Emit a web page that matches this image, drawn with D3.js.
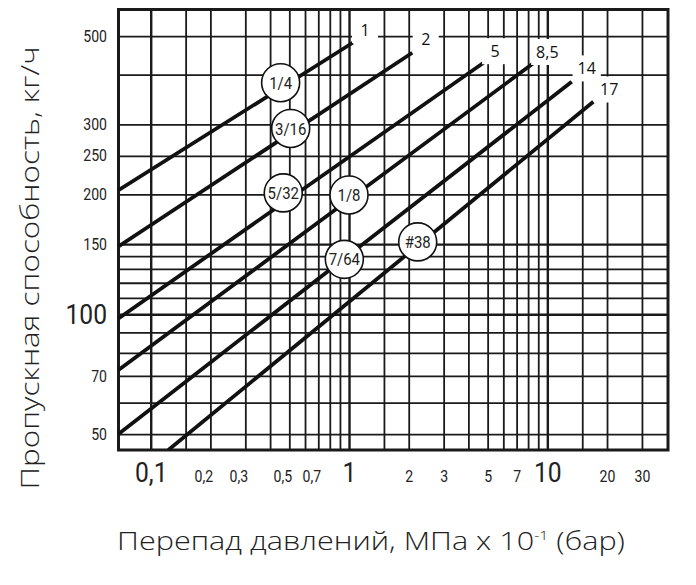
<!DOCTYPE html>
<html lang="ru">
<head>
<meta charset="UTF-8">
<title>Пропускная способность</title>
<script src="https://d3js.org/d3.v7.min.js"></script>
<style>
    body{ margin:0; background:#fff; }
    svg{ display:block; }
    .narrow{ font-family:Roboto, "Liberation Sans", Arial, sans-serif; font-weight:normal; }
    .grid line{ stroke:#1a1a1a; stroke-width:1.8; }
    .grid path{ display:none; }
</style>
</head>
<body>
<svg id="chart"></svg>
<script>
// orifice lines: start point, end point (data units)
const seriesNames = ["1/4", "3/16", "5/32", "1/8", "7/64", "#38"];
const endLabels   = ["1", "2", "5", "8,5", "14", "17"];
const startX = [0.0688, 0.0688, 0.0688, 0.0688, 0.0688, 0.1227];
const startY = [205, 148, 97.6, 72.4, 50, 45.6];
const endX   = [1.044, 2.085, 4.85, 8.57, 13.27, 17.06];
const endY   = [481, 454, 431, 428.5, 383.7, 342];
// circle badges
const badgeX = [0.452, 0.508, 0.466, 1.0, 0.947, 2.22];
const badgeY = [381.7, 293, 201.8, 199.4, 137.4, 152];
// number labels at line ends
const endLabelX = [1.204, 2.437, 5.45, 10.0, 15.8, 20.5];
const endLabelY = [517.6, 491.4, 458, 456, 414.6, 367];

const xGrid = [0.1, 0.15, 0.2, 0.3, 0.4, 0.5, 0.6, 0.7, 0.8, 0.9, 1, 1.5, 2, 3, 4, 5, 6, 7, 8, 9, 10, 15, 20, 30];
const yGrid = [50, 60, 70, 80, 90, 100, 110, 120, 130, 140, 150, 200, 250, 300, 400, 500];
const xTickValues = [0.1, 0.2, 0.3, 0.5, 0.7, 1, 2, 3, 5, 7, 10, 20, 30];
const xTickText   = ["0,1", "0,2", "0,3", "0,5", "0,7", "1", "2", "3", "5", "7", "10", "20", "30"];
const xMajor = [0.1, 1, 10];
const yTickValues = [500, 300, 250, 200, 150, 100, 70, 50];
const yMajor = [100];
const xDomain = [0.0688, 40.6];
const yDomain = [45.6, 583];

const W = 696, H = 585;
const m = {left: 118.5, right: 668, top: 9.5, bottom: 450};
const squeeze = 0.88;   // condensed look for tick and badge text

const svg = d3.select("#chart").attr("width", W).attr("height", H);

const x = d3.scaleLog().domain(xDomain).range([m.left, m.right]);
const y = d3.scaleLog().domain(yDomain).range([m.bottom, m.top]);

svg.append("defs").append("clipPath").attr("id", "plot")
   .append("rect").attr("x", m.left).attr("y", m.top)
   .attr("width", m.right - m.left).attr("height", m.bottom - m.top);

// grid
svg.append("g").attr("class", "grid")
   .attr("transform", "translate(0," + m.bottom + ")")
   .call(d3.axisBottom(x).tickValues(xGrid).tickSize(-(m.bottom - m.top)).tickFormat(""))
   .selectAll("line").style("stroke-width", d => xMajor.includes(d) ? 2.4 : 1.8);

svg.append("g").attr("class", "grid")
   .attr("transform", "translate(" + m.left + ",0)")
   .call(d3.axisLeft(y).tickValues(yGrid).tickSize(-(m.right - m.left)).tickFormat(""))
   .selectAll("line").style("stroke-width", d => (d == 150 || d == 100) ? 2.4 : 1.8);

// frame
svg.append("rect")
   .attr("x", m.left).attr("y", m.top)
   .attr("width", m.right - m.left).attr("height", m.bottom - m.top)
   .attr("fill", "none").attr("stroke", "#1a1a1a").attr("stroke-width", 3);

// lines
const lines = seriesNames.map((n, i) => [[startX[i], startY[i]], [endX[i], endY[i]]]);
svg.append("g").attr("clip-path", "url(#plot)")
   .selectAll("path").data(lines).enter().append("path")
   .attr("d", d3.line().x(d => x(d[0])).y(d => y(d[1])))
   .attr("fill", "none").attr("stroke", "#111").attr("stroke-width", 3.8);

// end labels with white boxes
const endG = svg.append("g").selectAll("g").data(endLabels).enter().append("g")
   .attr("transform", (d, i) => "translate(" + x(endLabelX[i]) + "," + y(endLabelY[i]) + ")");
endG.append("rect")
   .attr("fill", "#fff");
endG.append("text")
   .text(d => d)
   .attr("text-anchor", "middle").attr("dy", "0.36em")
   .style("font-family", "'Open Sans', sans-serif").style("font-size", "16px").attr("fill", "#111");
endG.each(function(){
    const t = d3.select(this).select("text").node().getBBox();
    const w = Math.max(t.width + 10, 26), h = 26;
    d3.select(this).select("rect").attr("x", -w / 2).attr("y", -h / 2).attr("width", w).attr("height", h);
});

// badges
const badge = svg.append("g").selectAll("g").data(seriesNames).enter().append("g")
   .attr("transform", (d, i) => "translate(" + x(badgeX[i]) + "," + y(badgeY[i]) + ")");
badge.append("circle").attr("r", 19)
   .attr("fill", "#fff").attr("stroke", "#111").attr("stroke-width", 1.6);
badge.append("text").attr("class", "narrow")
   .text(d => d)
   .attr("text-anchor", "middle").attr("dy", "0.36em")
   .attr("transform", "scale(" + squeeze + ",1)")
   .style("font-size", "17px").attr("fill", "#222");

// x tick labels
const xAx = svg.append("g")
   .attr("transform", "translate(0," + m.bottom + ")")
   .call(d3.axisBottom(x).tickValues(xTickValues).tickSize(0).tickFormat((d, i) => xTickText[i]));
xAx.attr("font-family", null).attr("class", "narrow");
xAx.select(".domain").remove();
xAx.selectAll("text")
   .attr("y", 31.7).attr("dy", null)
   .attr("x", (d, i) => ((!xMajor.includes(d) && xTickText[i].includes(",")) ? -7 : 0) / squeeze)
   .attr("transform", "scale(" + squeeze + ",1)")
   .attr("fill", "#222")
   .style("font-size", d => xMajor.includes(d) ? "28px" : "16px");

// y tick labels
const yAx = svg.append("g")
   .attr("transform", "translate(" + m.left + ",0)")
   .call(d3.axisLeft(y).tickValues(yTickValues).tickSize(0).tickFormat(d => d));
yAx.attr("font-family", null).attr("class", "narrow");
yAx.select(".domain").remove();
yAx.selectAll("text")
   .attr("x", -11.5 / squeeze).attr("fill", "#222")
   .attr("transform", "scale(" + squeeze + ",1)")
   .style("font-size", d => yMajor.includes(d) ? "28px" : "16px");

// axis titles, stretched to the reference width
function stretch(sel, target, base){
    const cur = sel.node().getComputedTextLength();
    sel.attr("transform", base + " scale(" + (target / cur) + ",1)");
}

const xt = svg.append("text")
   .attr("text-anchor", "middle")
   .style("font-family", "'Open Sans', sans-serif").style("font-weight", 300)
   .style("font-size", "25px").attr("fill", "#222");
xt.append("tspan").text("Перепад давлений, МПа x 10");
xt.append("tspan").text("-1").style("font-size", "13px").attr("dy", -10);
xt.append("tspan").text(" (бар)").attr("dy", 10);
stretch(xt, 508, "translate(371,550)");

const yt = svg.append("text")
   .attr("text-anchor", "middle")
   .style("font-family", "'Open Sans', sans-serif").style("font-weight", 300)
   .style("font-size", "25px").attr("fill", "#222")
   .text("Пропускная способность, кг/ч");
stretch(yt, 443, "translate(39,268) rotate(-90)");
</script>
</body>
</html>
